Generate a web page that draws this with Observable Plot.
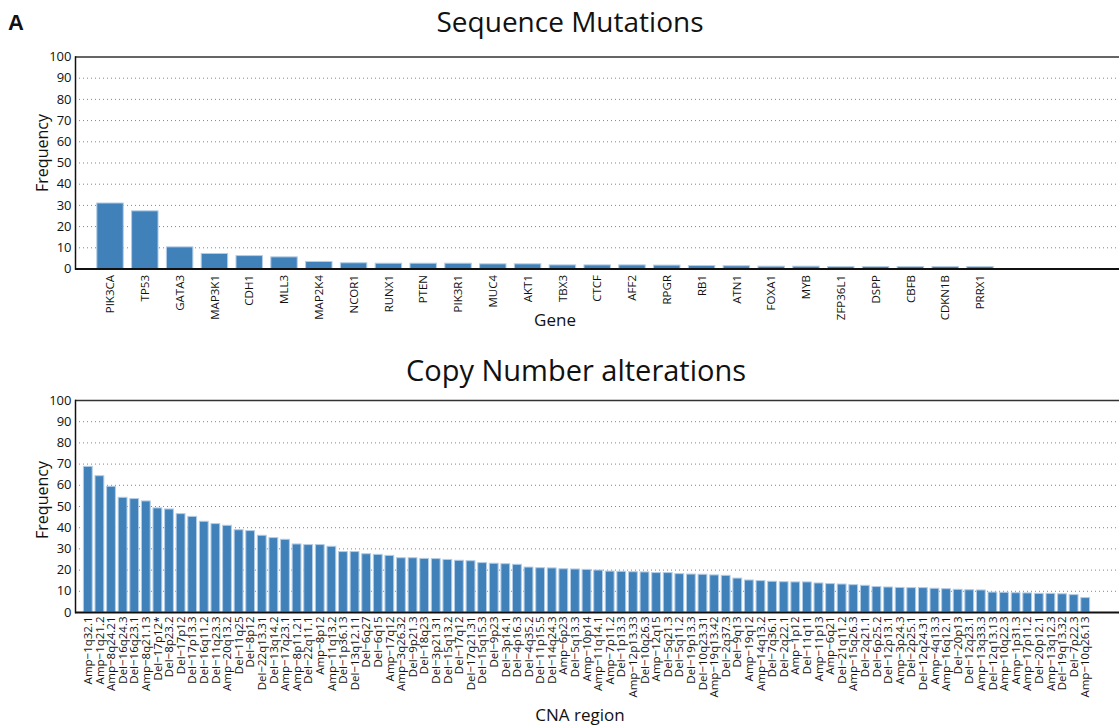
<!DOCTYPE html>
<html>
<head>
<meta charset="utf-8">
<script src="https://cdn.jsdelivr.net/npm/d3@7"></script>
<script src="https://cdn.jsdelivr.net/npm/@observablehq/plot@0.6"></script>
<style>
  html, body { margin: 0; padding: 0; background: #fff; }
  body { width: 1119px; height: 728px; position: relative; overflow: hidden; font-family: "Open Sans", "Noto Sans", sans-serif; color: #111; }
  .abs { position: absolute; white-space: nowrap; line-height: 1; z-index: 2; }
  .title { font-size: 29px; transform: translate(-50%, -50%); }
  #title1 { font-size: 28px; transform: translateX(-50%); left: 570px; top: 7px; }
  .ylab { font-size: 16px; transform: translate(-50%, -50%) rotate(-90deg); }
  .xlab { font-size: 17px; transform: translate(-50%, -50%); }
  #panel { left: 8px; top: 12px; font-family: "Liberation Sans", Arial, sans-serif; font-weight: bold; font-size: 22px; }
  #top, #bottom { position: absolute; left: 0; z-index: 1; }
  #top { top: 30px; }
  #bottom { top: 385px; }
</style>
</head>
<body>
<div id="top"></div>
<div id="bottom"></div>
<div id="panel" class="abs">A</div>
<div id="title1" class="abs">Sequence Mutations</div>
<div class="abs ylab" style="left:42px; top:153px;">Frequency</div>
<div class="abs xlab" style="left:555px; top:319px;">Gene</div>
<div class="abs title" style="left:576px; top:369px;">Copy Number alterations</div>
<div class="abs ylab" style="left:42px; top:500px;">Frequency</div>
<div class="abs xlab" style="left:580px; top:714px;">CNA region</div>
<script>
const genes = ["PIK3CA","TP53","GATA3","MAP3K1","CDH1","MLL3","MAP2K4","NCOR1","RUNX1","PTEN","PIK3R1","MUC4","AKT1","TBX3","CTCF","AFF2","RPGR","RB1","ATN1","FOXA1","MYB","ZFP36L1","DSPP","CBFB","CDKN1B","PRRX1"];
const geneFreq = [30.9,27.2,10.2,7.1,6.1,5.5,3.3,2.7,2.5,2.5,2.5,2.2,2.2,1.7,1.7,1.7,1.6,1.4,1.3,1.1,1.1,0.95,0.95,0.95,0.95,0.95];

const cnaRegions = ["Amp−1q32.1","Amp−1q21.2","Amp−8q24.21","Del−16q24.3","Del−16q23.1","Amp−8q21.13","Del−17p12*","Del−8p23.2","Del−17p12","Del−17p13.3",
"Del−16q11.2","Del−11q23.3","Amp−20q13.2","Del−11q25","Del−8p12","Del−22q13.31","Del−13q14.2","Amp−17q23.1","Amp−8p11.21","Del−22q11.1",
"Amp−8p12","Amp−11q13.2","Del−1p36.13","Del−13q12.11","Del−6q27","Del−6q15","Amp−17q12","Amp−3q26.32","Del−9p21.3","Del−18q23",
"Del−3p21.31","Del−15q13.2","Del−17q12","Del−17q21.31","Del−15q15.3","Del−9p23","Del−3p14.1","Del−4p16.3","Del−4q35.2","Del−11p15.5",
"Del−14q24.3","Amp−6p23","Del−5q13.3","Amp−10p14","Amp−11q14.1","Amp−7p11.2","Del−1p13.3","Amp−12p13.33","Del−10q26.3","Amp−12q15",
"Del−5q21.3","Del−5q11.2","Del−19p13.3","Del−10q23.31","Amp−19q13.42","Del−2q37.3","Del−9q13","Amp−19q12","Amp−14q13.2","Del−7q36.1",
"Del−2q22.1","Amp−1p12","Del−11q11","Amp−11p13","Amp−6q21","Del−21q11.2","Amp−15q26.3","Del−2q21.1","Del−6p25.2","Del−12p13.1",
"Amp−3p24.3","Del−2p25.1","Del−12q24.31","Amp−4q13.3","Amp−16q12.1","Del−20p13","Del−12q23.1","Amp−13q33.3","Del−12q13.13","Amp−10q22.3",
"Amp−1p31.3","Amp−17p11.2","Del−20p12.1","Amp−13q12.3","Del−19q13.32","Del−7p22.3","Amp−10q26.13"];
const cnaFreq = [68.7,64.3,59.3,54.1,53.5,52.4,49.1,48.6,46.4,45.1,
42.8,41.7,40.9,38.8,38.4,36.2,35.1,34.3,32.1,31.8,
31.8,31.0,28.5,28.5,27.5,27.2,26.7,25.6,25.6,25.3,
25.2,24.8,24.4,24.2,23.3,23.0,22.8,22.5,21.2,20.9,
20.8,20.4,20.3,20.1,19.8,19.3,19.2,19.0,18.9,18.6,
18.6,18.1,17.9,17.8,17.5,17.3,16.0,15.1,14.8,14.5,
14.3,14.2,14.2,13.7,13.4,13.2,12.9,12.6,12.0,11.8,
11.6,11.5,11.5,11.2,11.0,10.7,10.5,10.4,9.4,9.3,
9.1,9.0,8.8,8.8,8.6,8.2,6.8];

const yTicks = [0,10,20,30,40,50,60,70,80,90,100];
const gridTicks = [10,20,30,40,50,60,70,80,90];

const FILL = "#4181ba", EDGE = "#b3cde6";
const FONT = "'Open Sans', 'Noto Sans', sans-serif";

function chart({names, values, height, marginTop, marginBottom, xRange, labelSize, labelPad}) {
  const data = names.map((n, i) => ({name: n, value: values[i]}));
  return Plot.plot({
    width: 1119,
    height,
    marginLeft: 75,
    marginRight: 0,
    marginTop,
    marginBottom,
    style: {fontFamily: FONT, color: "#111", background: "transparent", overflow: "visible"},
    x: {type: "band", domain: names, range: xRange, round: false, paddingInner: 0.24, paddingOuter: 0, label: null},
    y: {domain: [0, 100], label: null},
    marks: [
      Plot.gridY(gridTicks, {stroke: "#777", strokeOpacity: 0.9, strokeDasharray: "1,3"}),
      Plot.barY(data, {x: "name", y: "value", fill: FILL, stroke: EDGE, strokeWidth: 1}),
      Plot.axisY(yTicks, {tickSize: 0, tickPadding: 4, fontSize: 13, label: null}),
      Plot.axisX({tickRotate: -90, tickSize: 0, tickPadding: labelPad, fontSize: labelSize, label: null}),
      Plot.ruleY([100], {stroke: "#333", strokeWidth: 1.5}),
      Plot.ruleY([0], {stroke: "#111", strokeWidth: 2}),
      Plot.frame({anchor: "left", stroke: "#111", strokeWidth: 1.5})
    ]
  });
}

document.getElementById("top").append(chart({
  names: genes, values: geneFreq, height: 305, marginTop: 26.5, marginBottom: 66.5,
  xRange: [96.8, 993.2], labelSize: 11.5, labelPad: 6
}));

document.getElementById("bottom").append(chart({
  names: cnaRegions, values: cnaFreq, height: 343, marginTop: 15, marginBottom: 116,
  xRange: [83.4, 1089.6], labelSize: 11.5, labelPad: 4
}));
</script>
</body>
</html>
